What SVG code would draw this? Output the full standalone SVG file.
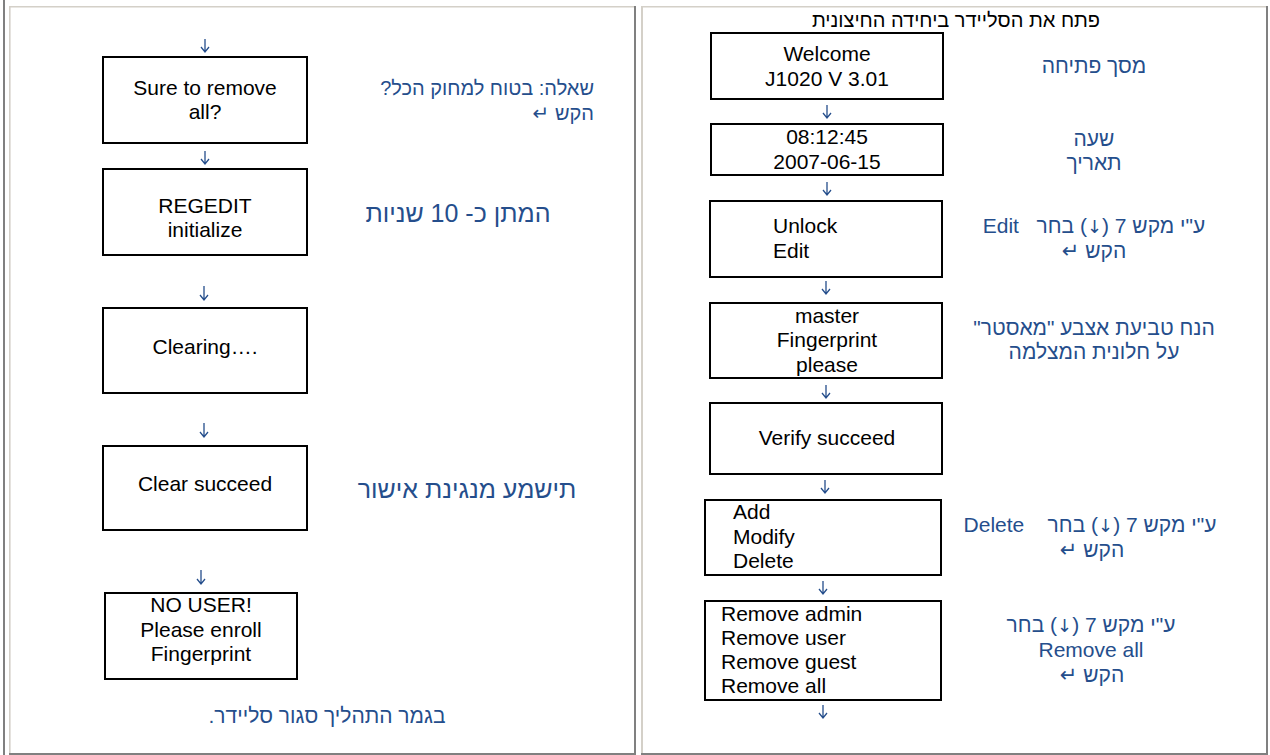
<svg xmlns="http://www.w3.org/2000/svg" width="1270" height="755" viewBox="0 0 1270 755">
<style>
text{font-family:"Liberation Sans",Arial,"DejaVu Sans",sans-serif}
.bx{fill:#fff;stroke:#000;stroke-width:2}
.t{font-size:21px;fill:#000}
.c{text-anchor:middle}
.lb{font-size:21px;fill:#254e8c;direction:rtl;unicode-bidi:embed;white-space:pre}
.q{font-size:20px}
.big{font-size:25px}
.dv{font-family:"DejaVu Sans",sans-serif;font-size:18px}
.ar{fill:none;stroke:#254e8c;stroke-width:1.3}
.lt{fill:#d4d0c8}
.dk{fill:#808080}
</style>
<rect width="1270" height="755" fill="#fff"/>
<g id="frame">
<rect class="dk" x="3" y="0" width="2" height="755"/>
<rect class="lt" x="9" y="6" width="626" height="1.5"/>
<rect class="lt" x="9" y="6" width="1.6" height="749"/>
<rect class="dk" x="634" y="6" width="2" height="749"/>
<rect class="dk" x="9" y="753" width="627" height="2"/>
<rect class="lt" x="641" y="6" width="627" height="1.5"/>
<rect class="lt" x="641" y="6" width="2" height="749"/>
<rect class="dk" x="1266" y="6" width="2" height="749"/>
<rect class="dk" x="641" y="753" width="627" height="2"/>
</g>
<g id="connectors">
<path class="ar" d="M205 39V52M201 47L205 52L209 47"/>
<path class="ar" d="M205 151V164M201 159L205 164L209 159"/>
<path class="ar" d="M204 286V300M200 295L204 300L208 295"/>
<path class="ar" d="M204 423V437M200 432L204 437L208 432"/>
<path class="ar" d="M201 570V584M197 579L201 584L205 579"/>
<path class="ar" d="M827 105V118M823 113L827 118L831 113"/>
<path class="ar" d="M827 182V195M823 190L827 195L831 190"/>
<path class="ar" d="M826 281V294M822 289L826 294L830 289"/>
<path class="ar" d="M826 385V398M822 393L826 398L830 393"/>
<path class="ar" d="M825 480V493M821 488L825 493L829 488"/>
<path class="ar" d="M823 581V594M819 589L823 594L827 589"/>
<path class="ar" d="M823 705V718M819 713L823 718L827 713"/>
</g>
<g id="n-sure">
<rect class="bx" x="103" y="57" width="204" height="86"/>
<text class="t c" x="205" y="95">Sure to remove</text>
<text class="t c" x="205" y="119">all?</text>
</g>
<g id="n-regedit">
<rect class="bx" x="103" y="169" width="204" height="86"/>
<text class="t c" x="205" y="213">REGEDIT</text>
<text class="t c" x="205" y="237">initialize</text>
</g>
<g id="n-clearing">
<rect class="bx" x="103" y="308" width="204" height="85"/>
<text class="t c" x="205" y="354">Clearing….</text>
</g>
<g id="n-clear-succeed">
<rect class="bx" x="103" y="446" width="204" height="84"/>
<text class="t c" x="205" y="491">Clear succeed</text>
</g>
<g id="n-no-user">
<rect class="bx" x="105" y="593" width="192" height="86"/>
<text class="t c" x="201" y="612">NO USER!</text>
<text class="t c" x="201" y="637">Please enroll</text>
<text class="t c" x="201" y="661">Fingerprint</text>
</g>
<g id="left-labels">
<text class="lb q" x="594" y="95">שאלה: בטוח למחוק הכל?</text>
<text class="lb q" x="594" y="120">הקש ↵</text>
<text class="lb big" x="458" y="222" text-anchor="middle">המתן כ- 10 שניות</text>
<text class="lb big" x="467" y="498" text-anchor="middle">תישמע מנגינת אישור</text>
<text class="lb" x="327" y="723" text-anchor="middle">בגמר התהליך סגור סליידר.</text>
</g>
<g id="header">
<text x="956" y="27" font-size="20" fill="#000" text-anchor="middle" style="direction:rtl;unicode-bidi:embed">פתח את הסליידר ביחידה החיצונית</text>
</g>
<g id="n-welcome">
<rect class="bx" x="711" y="33" width="232" height="66"/>
<text class="t c" x="827" y="61">Welcome</text>
<text class="t c" x="827" y="86">J1020 V 3.01</text>
</g>
<g id="n-time">
<rect class="bx" x="711" y="124" width="232" height="51"/>
<text class="t c" x="827" y="144">08:12:45</text>
<text class="t c" x="827" y="169">2007-06-15</text>
</g>
<g id="n-unlock">
<rect class="bx" x="710" y="201" width="232" height="76"/>
<text class="t" x="773" y="233">Unlock</text>
<text class="t" x="773" y="258">Edit</text>
</g>
<g id="n-master">
<rect class="bx" x="710" y="303" width="232" height="75"/>
<text class="t c" x="827" y="323">master</text>
<text class="t c" x="827" y="347">Fingerprint</text>
<text class="t c" x="827" y="372">please</text>
</g>
<g id="n-verify">
<rect class="bx" x="710" y="403" width="232" height="71"/>
<text class="t c" x="827" y="445">Verify succeed</text>
</g>
<g id="n-add">
<rect class="bx" x="705" y="500" width="236" height="75"/>
<text class="t" x="733" y="519">Add</text>
<text class="t" x="733" y="544">Modify</text>
<text class="t" x="733" y="568">Delete</text>
</g>
<g id="n-remove">
<rect class="bx" x="705" y="601" width="236" height="99"/>
<text class="t" x="721" y="621">Remove admin</text>
<text class="t" x="721" y="645">Remove user</text>
<text class="t" x="721" y="669">Remove guest</text>
<text class="t" x="721" y="693">Remove all</text>
</g>
<g id="right-labels">
<text class="lb" x="1094" y="73" text-anchor="middle">מסך פתיחה</text>
<text class="lb" x="1094" y="146" text-anchor="middle">שעה</text>
<text class="lb" x="1094" y="170" text-anchor="middle">תאריך</text>
<text class="lb" x="1094" y="233" text-anchor="middle">ע"י מקש 7 (<tspan class="dv">↓</tspan>) בחר   Edit</text>
<text class="lb" x="1094" y="258" text-anchor="middle">הקש ↵</text>
<text class="lb" x="1094" y="335" text-anchor="middle">הנח טביעת אצבע "מאסטר"</text>
<text class="lb" x="1094" y="359" text-anchor="middle">על חלונית המצלמה</text>
<text class="lb" x="1090" y="532" text-anchor="middle">ע"י מקש 7 (<tspan class="dv">↓</tspan>) בחר    Delete</text>
<text class="lb" x="1092" y="557" text-anchor="middle">הקש ↵</text>
<text class="lb" x="1091" y="632" text-anchor="middle">ע"י מקש 7 (<tspan class="dv">↓</tspan>) בחר</text>
<text class="lb" x="1091" y="657" text-anchor="middle">Remove all</text>
<text class="lb" x="1092" y="682" text-anchor="middle">הקש ↵</text>
</g>
</svg>
